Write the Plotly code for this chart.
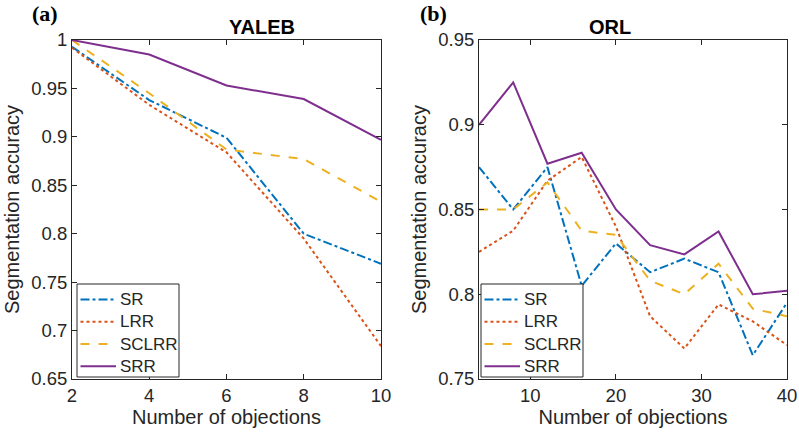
import plotly.graph_objects as go

# ---- data ----
series_names = ["SR", "LRR", "SCLRR", "SRR"]
colors = ["#0072BD", "#D95319", "#EDB120", "#7E2F8E"]
dashes = ["dashdot", "dot", "dash", "solid"]

yaleb_x = [2, 4, 6, 8, 10]
yaleb_sr = [0.993, 0.938, 0.899, 0.800, 0.769]
yaleb_lrr = [0.992, 0.933, 0.884, 0.795, 0.684]
yaleb_sclrr = [1.000, 0.945, 0.887, 0.877, 0.833]
yaleb_srr = [1.000, 0.985, 0.953, 0.939, 0.897]

orl_x = [4, 8, 12, 16, 20, 24, 28, 32, 36, 40]
orl_sr = [0.875, 0.850, 0.875, 0.805, 0.830, 0.813, 0.821, 0.813, 0.764, 0.795]
orl_lrr = [0.825, 0.8375, 0.867, 0.881, 0.840, 0.787, 0.768, 0.794, 0.784, 0.770]
orl_sclrr = [0.850, 0.850, 0.866, 0.8375, 0.835, 0.808, 0.800, 0.818, 0.7915, 0.787]
orl_srr = [0.900, 0.925, 0.877, 0.8835, 0.850, 0.829, 0.8235, 0.837, 0.800, 0.802]

yaleb_ticks = [0.65, 0.7, 0.75, 0.8, 0.85, 0.9, 0.95, 1]
yaleb_ticklabels = ["0.65", "0.7", "0.75", "0.8", "0.85", "0.9", "0.95", "1"]
orl_yticks = [0.75, 0.8, 0.85, 0.9, 0.95]
orl_yticklabels = ["0.75", "0.8", "0.85", "0.9", "0.95"]
orl_xticks = [10, 20, 30, 40]

W, H = 799, 439
fig = go.Figure()

left_sets = [yaleb_sr, yaleb_lrr, yaleb_sclrr, yaleb_srr]
right_sets = [orl_sr, orl_lrr, orl_sclrr, orl_srr]
for i, name in enumerate(series_names):
    fig.add_trace(go.Scatter(x=yaleb_x, y=left_sets[i], mode="lines", name=name,
                             line=dict(color=colors[i], dash=dashes[i], width=2),
                             xaxis="x", yaxis="y", showlegend=False))
for i, name in enumerate(series_names):
    fig.add_trace(go.Scatter(x=orl_x, y=right_sets[i], mode="lines", name=name,
                             line=dict(color=colors[i], dash=dashes[i], width=2),
                             xaxis="x2", yaxis="y2", showlegend=False))

FONT = "Liberation Sans, Arial, sans-serif"
TXT = "#262626"
axcommon = dict(showline=True, linecolor=TXT, linewidth=1, mirror="ticks",
                ticks="inside", ticklen=5, tickcolor=TXT, showgrid=False,
                zeroline=False, automargin=False,
                tickfont=dict(family=FONT, size=18.5, color=TXT))

lx0, lx1 = 72 / W, 381 / W
rx0, rx1 = 479 / W, 787 / W
y0, y1 = 1 - 379 / H, 1 - 40 / H

xtitle = dict(text="Number of objections", font=dict(size=20, color=TXT), standoff=4)
ytitle = dict(text="Segmentation accuracy", font=dict(size=20, color=TXT), standoff=6)

# ---- legend boxes drawn in paper space ----
shapes = []
annotations = []
row_y = [299.5, 321.7, 344.0, 366.2]
for bx in (77, 481):
    shapes.append(dict(type="rect", xref="paper", yref="paper",
                       x0=bx / W, x1=(bx + 102) / W, y0=1 - 377 / H, y1=1 - 284 / H,
                       fillcolor="white", line=dict(color=TXT, width=1), layer="above"))
    for i, name in enumerate(series_names):
        yy = 1 - row_y[i] / H
        shapes.append(dict(type="line", xref="paper", yref="paper",
                           x0=(bx + 3.5) / W, x1=(bx + 39) / W, y0=yy, y1=yy,
                           line=dict(color=colors[i], dash=dashes[i], width=2),
                           layer="above"))
        annotations.append(dict(text=name, x=(bx + 40.5) / W, y=yy, xref="paper",
                                yref="paper", xanchor="left", yanchor="middle",
                                showarrow=False,
                                font=dict(family=FONT, size=17, color=TXT)))

annotations += [
    dict(text="<b>YALEB</b>", x=(lx0 + lx1) / 2, y=1 - 27 / H, xref="paper", yref="paper",
         yanchor="middle", showarrow=False, font=dict(family=FONT, size=20, color="#000")),
    dict(text="<b>ORL</b>", x=(rx0 + rx1) / 2, y=1 - 27 / H, xref="paper", yref="paper",
         yanchor="middle", showarrow=False, font=dict(family=FONT, size=20, color="#000")),
    dict(text="<b>(a)</b>", x=30 / W, y=1 - 14 / H, xref="paper", yref="paper",
         yanchor="middle", showarrow=False,
         font=dict(family="Liberation Serif, Times New Roman, serif", size=22, color="#000")),
    dict(text="<b>(b)</b>", x=433 / W, y=1 - 14 / H, xref="paper", yref="paper",
         yanchor="middle", showarrow=False,
         font=dict(family="Liberation Serif, Times New Roman, serif", size=22, color="#000")),
]

fig.update_layout(
    width=W, height=H,
    margin=dict(l=0, r=0, t=0, b=0, autoexpand=False),
    plot_bgcolor="white", paper_bgcolor="white",
    font=dict(family=FONT, color=TXT),
    xaxis=dict(domain=[lx0, lx1], range=[2, 10], tickvals=[2, 4, 6, 8, 10],
               anchor="y", title=xtitle, **axcommon),
    yaxis=dict(domain=[y0, y1], range=[0.65, 1], tickvals=yaleb_ticks,
               ticktext=yaleb_ticklabels, anchor="x", title=ytitle, **axcommon),
    xaxis2=dict(domain=[rx0, rx1], range=[4, 40], tickvals=orl_xticks, anchor="y2",
                title=xtitle, **axcommon),
    yaxis2=dict(domain=[y0, y1], range=[0.75, 0.95], tickvals=orl_yticks,
                ticktext=orl_yticklabels, anchor="x2", title=ytitle, **axcommon),
    showlegend=False,
    shapes=shapes,
    annotations=annotations,
)

fig.write_html("out.html", config={"displayModeBar": False},
               post_script="document.body.style.margin='0px';")
